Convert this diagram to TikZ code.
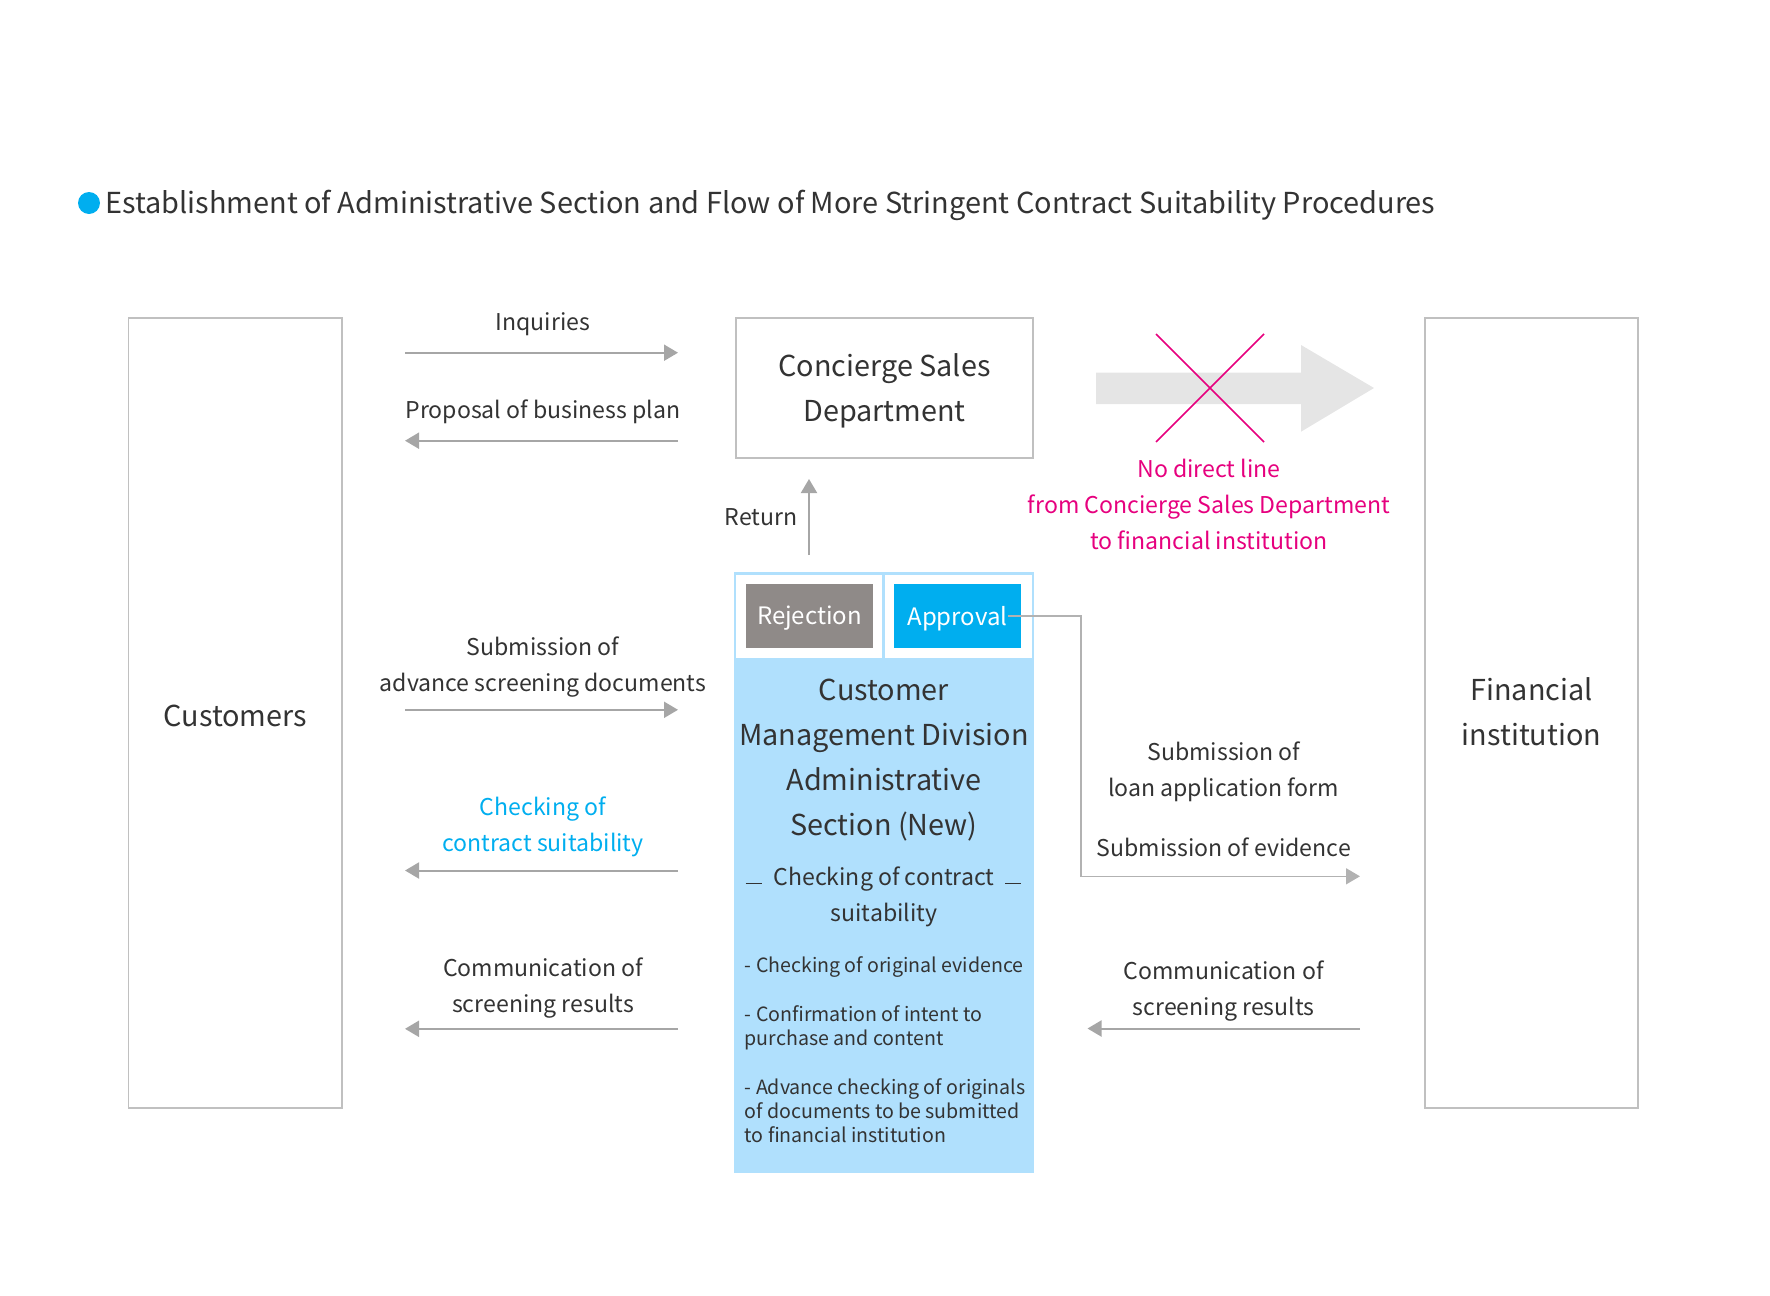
\documentclass[tikz,border=0pt]{standalone}
\usepackage{fontspec}
\setmainfont{Noto Sans CJK JP}
\usetikzlibrary{arrows.meta}
\definecolor{txt}{RGB}{51,51,51}
\definecolor{boxline}{RGB}{192,192,192}
\definecolor{arr}{RGB}{166,166,166}
\definecolor{arrl}{RGB}{178,178,178}
\definecolor{cyanc}{RGB}{0,174,239}
\definecolor{lblue}{RGB}{176,224,253}
\definecolor{rejgray}{RGB}{143,138,136}
\definecolor{magentac}{RGB}{230,0,126}
\definecolor{bigarrow}{RGB}{229,229,229}
\newcommand\fsz[2]{\fontsize{#1}{#2}\selectfont}
\begin{document}
\begin{tikzpicture}[x=1pt,y=-1pt,
  lbl/.style={text=txt, font=\fsz{23.1}{36}, align=center, inner sep=0pt, anchor=center, yshift=-2.5pt},
  big/.style={text=txt, font=\fsz{28.8}{45}, align=center, inner sep=0pt},
  bigtxt/.style={big, yshift=-2.5pt},
  item/.style={text=txt, font=\fsz{19.6}{24}, align=left, inner sep=0pt, anchor=west},
  flow/.style={draw=arr, line width=2pt, -{Triangle[length=14pt,width=16pt]}},
  panel/.style={draw=boxline, line width=1.5pt, fill=white, inner sep=0pt},
  tag/.style={text=white, font=\fsz{24}{30}, minimum width=127pt, minimum height=63.5pt, inner sep=0pt},
]
\useasboundingbox (0,0) rectangle (1770,1296);
% title
\node[circle, fill=cyanc, minimum size=22pt, inner sep=0pt] (dot) at (89,203) {};
\node[anchor=west, text=txt, font=\fsz{28.9}{36}, inner sep=0pt, yshift=-2.5pt] (title) at (105,203)
  {Establishment of Administrative Section and Flow of More Stringent Contract Suitability Procedures};
% main boxes
\node[panel, minimum width=213.4pt, minimum height=790pt] (cust) at (235.3,713) {};
\node[bigtxt] (custlbl) at (cust.center) {Customers};
\node[panel, minimum width=213pt, minimum height=790pt] (fin) at (1531.5,713) {};
\node[bigtxt, yshift=3.4pt] (finlbl) at (fin.center) {Financial\\institution};
\node[panel, minimum width=297pt, minimum height=140pt] (conc) at (884.5,388) {};
\node[bigtxt] (conclbl) at (conc.center) {Concierge Sales\\Department};
% admin section
\node[fill=lblue, minimum width=300.5pt, minimum height=600.4pt, inner sep=0pt] (admin) at (883.75,872.6) {};
\fill[white] (735.7,575) rectangle (882.1,658.3);
\fill[white] (884.8,575) rectangle (1031.7,658.3);
\node[tag, fill=rejgray] (rej) at (809.5,615.75) {};
\node[text=white, font=\fsz{24}{30}, inner sep=0pt, yshift=-2.5pt] (rejlbl) at (rej.center) {Rejection};
\node[tag, fill=cyanc] (appr) at (957.5,615.75) {};
\node[text=white, font=\fsz{24}{30}, inner sep=0pt, yshift=-2.5pt] (apprlbl) at (appr.center) {Approval};
\node[bigtxt] (admtitle) at (884,757.5) {Customer\\Management Division\\Administrative\\Section (New)};
\node[lbl, yshift=2.2pt] (chk) at (884,897) {Checking of contract\\suitability};
\draw[txt, line width=1.2pt] (745.5,883.4) -- (761.6,883.4);
\draw[txt, line width=1.2pt] (1005,883.4) -- (1021,883.4);
\node[item] (it1) at (744.6,967) {- Checking of original evidence};
\node[item] (it2) at (744.6,1027.5) {- Confirmation of intent to\\purchase and content};
\node[item] (it3) at (744.6,1111) {- Advance checking of originals\\of documents to be submitted\\to financial institution};
% left labels and arrows
\node[lbl] (inq) at (543,322) {Inquiries};
\node[lbl, yshift=2.2pt] (prop) at (543,411.7) {Proposal of business plan};
\node[lbl] (subadv) at (543,665) {Submission of\\advance screening documents};
\node[lbl, text=cyanc, yshift=2.2pt] (chkc) at (543,827) {Checking of\\contract suitability};
\node[lbl, yshift=1pt] (comml) at (543,987) {Communication of\\screening results};
\coordinate (a1s) at (405,352.7); \coordinate (a1e) at (678,352.7);
\coordinate (a2s) at (678,440.7); \coordinate (a2e) at (405,440.7);
\coordinate (a3s) at (405,709.8); \coordinate (a3e) at (678,709.8);
\coordinate (a4s) at (678,870.5); \coordinate (a4e) at (405,870.5);
\coordinate (a5s) at (678,1028.8); \coordinate (a5e) at (405,1028.8);
\draw[flow] (a1s) -- (a1e);
\draw[flow] (a2s) -- (a2e);
\draw[flow] (a3s) -- (a3e);
\draw[flow] (a4s) -- (a4e);
\draw[flow] (a5s) -- (a5e);
% return
\node[lbl, yshift=3.4pt] (ret) at (761,518) {Return};
\coordinate (rs) at (809,555); \coordinate (re) at (809,479);
\draw[flow] (rs) -- (re);
% no direct line
\fill[bigarrow] (1096,372.7) -- (1301,372.7) -- (1301,345) -- (1374,388) -- (1301,431.7) -- (1301,404) -- (1096,404) -- cycle;
\draw[magentac, line width=1.5pt] (1156,334) -- (1264,442);
\draw[magentac, line width=1.5pt] (1264,334) -- (1156,442);
\node[lbl, text=magentac, yshift=3.5pt] (nodirect) at (1209,505) {No direct line\\from Concierge Sales Department\\to financial institution};
% right side
\coordinate (ap1) at (1081,876.3); \coordinate (ape) at (1360,876.3);
\draw[flow, draw=arrl, line width=1.5pt] ([xshift=-13pt]appr.east) -| (ap1) -- (ape);
\node[lbl, yshift=1pt] (subloan) at (1223.7,770.4) {Submission of\\loan application form};
\node[lbl, yshift=3pt] (subev) at (1223.7,848.1) {Submission of evidence};
\node[lbl, yshift=1pt] (commr) at (1223.7,989.8) {Communication of\\screening results};
\coordinate (b1s) at (1360,1028.5); \coordinate (b1e) at (1087.5,1028.5);
\draw[flow] (b1s) -- (b1e);
\end{tikzpicture}
\end{document}
